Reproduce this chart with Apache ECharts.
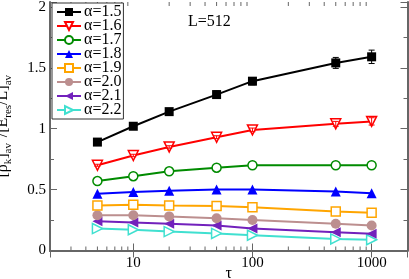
<!DOCTYPE html>
<html><head><meta charset="utf-8">
<script src="https://cdn.jsdelivr.net/npm/echarts@6/dist/echarts.min.js"></script>
<style>html,body{margin:0;padding:0;background:#fff}#c{width:409px;height:279px}</style>
</head><body><div id="c"></div>
<script>
const taus = [5, 10, 20, 50, 100, 500, 1000];
const a15 = [0.89, 1.02, 1.14, 1.28, 1.39, 1.54, 1.59];
const a15err = [0.015, 0.02, 0.02, 0.03, 0.03, 0.045, 0.055];
const a16 = [0.70, 0.78, 0.85, 0.93, 0.99, 1.04, 1.06];
const a16err = [0.008, 0.01, 0.01, 0.012, 0.015, 0.02, 0.03];
const a17 = [0.57, 0.61, 0.65, 0.68, 0.70, 0.70, 0.70];
const a18 = [0.465, 0.48, 0.49, 0.50, 0.50, 0.485, 0.47];
const a19 = [0.37, 0.375, 0.37, 0.365, 0.355, 0.32, 0.31];
const a20 = [0.29, 0.29, 0.28, 0.265, 0.25, 0.22, 0.205];
const a21 = [0.24, 0.23, 0.22, 0.205, 0.18, 0.15, 0.137];
const a22 = [0.18, 0.17, 0.155, 0.14, 0.125, 0.095, 0.088];
const names = ['α=1.5','α=1.6','α=1.7','α=1.8','α=1.9','α=2.0','α=2.1','α=2.2'];
const xMinorTicks = [3,4,5,6,7,8,9,20,30,40,50,60,70,80,90,200,300,400,500,600,700,800,900];
const xMajorLabels = ['10','100','1000'];

const FONT = '"Liberation Serif", "DejaVu Serif", serif';
const AX = '#666';
const zip = (xs, ys) => xs.map((x, i) => [x, ys[i]]);
const zipErr = (xs, ys, es) => xs.map((x, i) => [x, ys[i], es[i]]);

const styles = [
  {color:'#000000', symbol:'rect', size:9, rot:0, hollow:false},
  {color:'#ff0000', symbol:'triangle', size:10, rot:180, hollow:true},
  {color:'#008b00', symbol:'circle', size:9, rot:0, hollow:true},
  {color:'#0000ff', symbol:'triangle', size:10, rot:0, hollow:false},
  {color:'#ffa500', symbol:'rect', size:9, rot:0, hollow:true},
  {color:'#bc8f8f', symbol:'circle', size:10, rot:0, hollow:false},
  {color:'#7221bc', symbol:'triangle', size:10, rot:90, hollow:false},
  {color:'#40e0d0', symbol:'triangle', size:10, rot:-90, hollow:true}
];
const values = [a15, a16, a17, a18, a19, a20, a21, a22];

const lineSeries = values.map((v, i) => {
  const s = styles[i];
  return {
    name: names[i], type: 'line', data: zip(taus, v),
    symbol: s.symbol, symbolSize: s.size, symbolRotate: s.rot,
    showAllSymbol: true,
    lineStyle: {color: s.color, width: 2},
    itemStyle: s.hollow ? {color: '#fff', borderColor: s.color, borderWidth: 1.5}
                        : {color: s.color, borderColor: s.color, borderWidth: 0},
    z: 10 - i
  };
});

function errRender(params, api) {
  const x = api.value(0), y = api.value(1), e = api.value(2);
  const top = api.coord([x, y + e]);
  const bot = api.coord([x, y - e]);
  const st = {stroke: '#000', lineWidth: 1};
  return {type: 'group', children: [
    {type: 'line', shape: {x1: top[0], y1: top[1], x2: bot[0], y2: bot[1]}, style: st},
    {type: 'line', shape: {x1: top[0]-3, y1: top[1], x2: top[0]+3, y2: top[1]}, style: st},
    {type: 'line', shape: {x1: bot[0]-3, y1: bot[1], x2: bot[0]+3, y2: bot[1]}, style: st}
  ]};
}
function errRenderRed(params, api) {
  const g = errRender(params, api);
  g.children.forEach(c => c.style.stroke = '#ff0000');
  return g;
}
function minorTickRender(params, api) {
  const cs = params.coordSys;
  const p = api.coord([api.value(0), 1]);
  const st = {stroke: AX, lineWidth: 1};
  const yb = cs.y + cs.height, yt = cs.y;
  return {type: 'group', children: [
    {type: 'line', shape: {x1: p[0], y1: yb, x2: p[0], y2: yb - 4}, style: st},
    {type: 'line', shape: {x1: p[0], y1: yt, x2: p[0], y2: yt + 4}, style: st}
  ]};
}

const chart = echarts.init(document.getElementById('c'), null, {renderer: 'canvas'});
chart.setOption({
  animation: false,
  backgroundColor: '#fff',
  textStyle: {fontFamily: FONT},
  grid: {left: 50, right: 1.5, top: 2, bottom: 28.5, containLabel: false, outerBoundsMode: 'none'},
  legend: {
    orient: 'vertical', left: 52, top: 3,
    data: names,
    itemWidth: 24, itemHeight: 10, itemGap: -2,
    padding: [1, 2, 1, 4],
    borderColor: '#333', borderWidth: 1, backgroundColor: '#fff',
    textStyle: {fontFamily: FONT, fontSize: 16, color: '#000', lineHeight: 14.6, padding: [0,0,0,-2]}
  },
  xAxis: [{
    type: 'log', min: 2, max: 2000, logBase: 10,
    name: 'τ', nameLocation: 'middle', nameGap: 15, nameMoveOverlap: false,
    nameTextStyle: {fontFamily: FONT, fontSize: 16, color: '#000'},
    axisLine: {lineStyle: {color: AX, width: 2}},
    axisTick: {inside: true, length: 7, lineStyle: {color: AX}},
    minorTick: {show: false},
    splitLine: {show: false},
    axisLabel: {
      showMinLabel: false, showMaxLabel: false, margin: 5,
      fontFamily: FONT, fontSize: 15, color: '#000',
      formatter: v => xMajorLabels.includes(String(Math.round(v))) ? String(Math.round(v)) : ''
    }
  }, {
    type: 'log', min: 2, max: 2000, logBase: 10, position: 'top',
    axisLine: {show: true, lineStyle: {color: AX, width: 2}},
    axisTick: {inside: true, length: 7, lineStyle: {color: AX}},
    axisLabel: {show: false}, splitLine: {show: false}
  }],
  yAxis: [{
    type: 'value', min: 0, max: 2.04, interval: 0.5,
    name: '{t|[ρ}{sub|k}{t|]}{sub|av}{sup|α}{t|/[E}{sub|res}{t|/L]}{sub|av}',
    nameLocation: 'middle', nameGap: 36, nameRotate: 90, nameMoveOverlap: false,
    nameTextStyle: {
      fontFamily: FONT, color: '#000',
      rich: {
        t: {fontFamily: FONT, fontSize: 16, color: '#000', lineHeight: 22, verticalAlign: 'middle'},
        sub: {fontFamily: FONT, fontSize: 11, color: '#000', lineHeight: 22, verticalAlign: 'bottom'},
        sup: {fontFamily: FONT, fontSize: 11, color: '#000', lineHeight: 22, verticalAlign: 'top'}
      }
    },
    axisLine: {show: true, lineStyle: {color: AX, width: 2}},
    axisTick: {inside: true, length: 7, lineStyle: {color: AX}},
    minorTick: {show: true, splitNumber: 2, length: 4, lineStyle: {color: AX}},
    splitLine: {show: false}, minorSplitLine: {show: false},
    axisLabel: {margin: 4, fontFamily: FONT, fontSize: 15, color: '#000',
      formatter: v => (v > 2.01 ? '' : String(v))}
  }, {
    type: 'value', min: 0, max: 2.04, interval: 0.5, position: 'right',
    axisLine: {show: true, lineStyle: {color: AX, width: 2}},
    axisTick: {inside: true, length: 7, lineStyle: {color: AX}},
    minorTick: {show: true, splitNumber: 2, length: 4, lineStyle: {color: AX}},
    splitLine: {show: false}, axisLabel: {show: false}
  }],
  graphic: [{
    type: 'text', left: 188, top: 14,
    style: {text: 'L=512', fontFamily: FONT, fontSize: 16, fill: '#000'}
  }],
  series: [
    {type: 'custom', name: 'minor', renderItem: minorTickRender, data: xMinorTicks.map(v => [v]),
     encode: {x: 0}, silent: true, clip: false, z: 1},
    ...lineSeries,
    {type: 'custom', name: 'err15', renderItem: errRender, data: zipErr(taus, a15, a15err),
     encode: {x: 0, y: 1}, z: 20},
    {type: 'custom', name: 'err16', renderItem: errRenderRed, data: zipErr(taus, a16, a16err),
     encode: {x: 0, y: 1}, z: 19}
  ]
});
</script></body></html>
